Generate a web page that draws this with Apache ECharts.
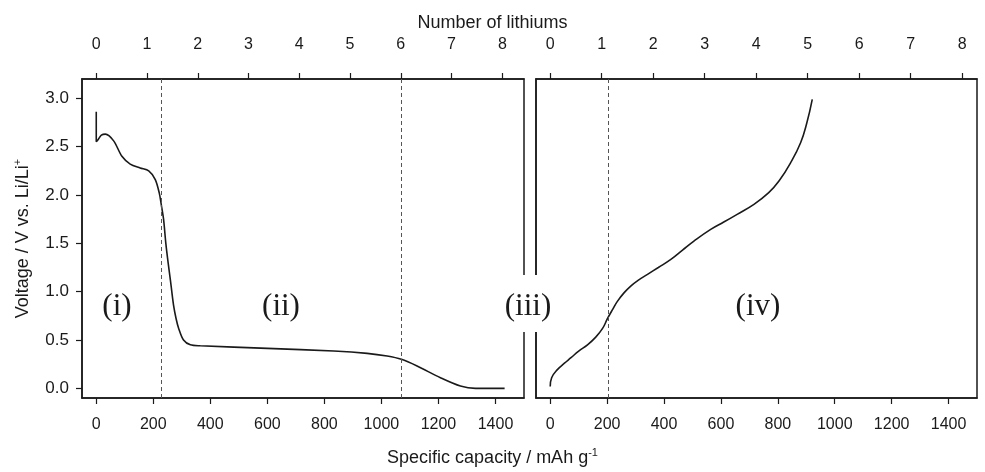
<!DOCTYPE html>
<html>
<head>
<meta charset="utf-8">
<script src="https://cdn.jsdelivr.net/npm/echarts@6/dist/echarts.min.js"></script>
<style>
  html, body { margin: 0; padding: 0; background: #ffffff; }
  #chart { width: 985px; height: 472px; }
</style>
</head>
<body>
<div id="chart"></div>
<script>
// Discharge (first lithiation) profile: capacity in mAh/g, voltage in V vs Li/Li+
const dischargeCapacity = [0, 0, 8, 18, 32, 61, 90, 119, 154, 184, 207, 221, 228, 236, 244, 252, 260, 271, 280, 289, 306, 330, 365, 600, 833, 950, 1020, 1070, 1125, 1207, 1277, 1330, 1432];
const dischargeVoltage  = [2.86, 2.55, 2.58, 2.62, 2.63, 2.56, 2.40, 2.32, 2.28, 2.25, 2.16, 2.02, 1.90, 1.75, 1.50, 1.30, 1.12, 0.86, 0.72, 0.62, 0.50, 0.45, 0.44, 0.413, 0.386, 0.362, 0.334, 0.30, 0.231, 0.11, 0.024, 0.0, 0.0];

// Charge (delithiation) profile
const chargeCapacity = [0, 5, 26, 50, 73, 100, 131, 160, 184, 201, 220, 236, 260, 283, 310, 342, 380, 424, 465, 505, 564, 610, 657, 716, 768, 804, 845, 880, 902, 921];
const chargeVoltage  = [0.02, 0.11, 0.196, 0.26, 0.317, 0.385, 0.45, 0.53, 0.62, 0.72, 0.82, 0.90, 0.99, 1.058, 1.12, 1.179, 1.25, 1.334, 1.43, 1.523, 1.644, 1.72, 1.80, 1.903, 2.024, 2.144, 2.334, 2.54, 2.747, 2.99];

// Region boundaries (mAh/g)
const dischargeBoundaries = [228, 1070];
const chargeBoundaries = [205];

// Axis ticks
const capacityTicks = [0, 200, 400, 600, 800, 1000, 1200, 1400];
const lithiumTicks = [0, 1, 2, 3, 4, 5, 6, 7, 8];
const voltageTicks = [0, 0.5, 1.0, 1.5, 2.0, 2.5, 3.0];
const capacityRange = [-50, 1500];
const voltageRange = [-0.1, 3.2];
// mAh/g per lithium for each panel's top axis
const capacityPerLithium = [178, 181];

const regionLabels = ['(i)', '(ii)', '(iii)', '(iv)'];

const sansFont = '"Liberation Sans", Arial, sans-serif';
const serifFont = '"Liberation Serif", "Times New Roman", serif';
const ink = '#1a1a1a';
const frameLine = { show: true, onZero: false, lineStyle: { color: ink, width: 1.5 } };

function bottomAxis(gridIndex) {
  return {
    type: 'value', gridIndex, position: 'bottom',
    min: capacityRange[0], max: capacityRange[1],
    axisLine: frameLine,
    axisTick: { show: true, length: 6, inside: false, customValues: capacityTicks, lineStyle: { color: ink, width: 1.2 } },
    axisLabel: { customValues: capacityTicks, margin: 19, fontSize: 16, color: ink, fontFamily: sansFont, formatter: v => String(Math.round(v)) },
    splitLine: { show: false }
  };
}
function topAxis(gridIndex) {
  const k = capacityPerLithium[gridIndex];
  return {
    type: 'value', gridIndex, position: 'top',
    min: capacityRange[0] / k, max: capacityRange[1] / k,
    axisLine: frameLine,
    axisTick: { show: true, length: 6, inside: false, customValues: lithiumTicks, lineStyle: { color: ink, width: 1.2 } },
    axisLabel: { customValues: lithiumTicks, margin: 26, fontSize: 16, color: ink, fontFamily: sansFont, formatter: v => String(Math.round(v)) },
    splitLine: { show: false }
  };
}
function pairs(xs, ys) { return xs.map((x, i) => [x, ys[i]]); }
function boundaryLines(values) {
  return {
    silent: true, symbol: 'none', label: { show: false },
    lineStyle: { type: [4, 3], color: '#555', width: 1 },
    data: values.map(v => ({ xAxis: v }))
  };
}

const chart = echarts.init(document.getElementById('chart'), null, { renderer: 'canvas' });

const option = {
  backgroundColor: '#ffffff',
  animation: false,
  grid: [
    { left: 82, top: 79, width: 442, height: 319, show: true, borderColor: ink, borderWidth: 1.5, backgroundColor: 'transparent' },
    { left: 536, top: 79, width: 441, height: 319, show: true, borderColor: ink, borderWidth: 1.5, backgroundColor: 'transparent' }
  ],
  xAxis: [bottomAxis(0), topAxis(0), bottomAxis(1), topAxis(1)],
  yAxis: [
    {
      type: 'value', gridIndex: 0, min: voltageRange[0], max: voltageRange[1],
      axisLine: frameLine,
      axisTick: { show: true, length: 6, customValues: voltageTicks, lineStyle: { color: ink, width: 1.2 } },
      axisLabel: { customValues: voltageTicks, margin: 13, fontSize: 17, color: ink, fontFamily: sansFont, formatter: v => v.toFixed(1) },
      splitLine: { show: false },
      name: 'Voltage / V vs. Li/Li{sup|+}',
      nameLocation: 'middle', nameGap: 48, nameRotate: 90,
      nameTextStyle: {
        fontSize: 18, color: ink, fontFamily: sansFont,
        rich: { sup: { fontSize: 11, color: ink, fontFamily: sansFont, verticalAlign: 'top', lineHeight: 22 } }
      }
    },
    {
      type: 'value', gridIndex: 1, min: voltageRange[0], max: voltageRange[1],
      axisLine: frameLine, axisTick: { show: false }, axisLabel: { show: false }, splitLine: { show: false }
    }
  ],
  series: [
    {
      type: 'line', xAxisIndex: 0, yAxisIndex: 0,
      data: pairs(dischargeCapacity, dischargeVoltage),
      showSymbol: false, smooth: 0.3,
      lineStyle: { color: ink, width: 1.6 },
      markLine: boundaryLines(dischargeBoundaries)
    },
    {
      type: 'line', xAxisIndex: 2, yAxisIndex: 1,
      data: pairs(chargeCapacity, chargeVoltage),
      showSymbol: false, smooth: 0.45,
      lineStyle: { color: ink, width: 1.6 },
      markLine: boundaryLines(chargeBoundaries)
    }
  ],
  graphic: [
    {
      type: 'text', left: 'center', top: 14, z: 50,
      style: { text: 'Number of lithiums', font: '18px ' + sansFont, fill: ink }
    },
    {
      type: 'text', left: 'center', top: 447, z: 50,
      style: {
        text: 'Specific capacity / mAh g{sup|-1}', font: '18px ' + sansFont, fill: ink,
        rich: { sup: { fontSize: 11, fontFamily: sansFont, fill: ink, verticalAlign: 'top', lineHeight: 22 } }
      }
    },
    { type: 'rect', z: 90, shape: { x: 497, y: 275, width: 78, height: 57 }, style: { fill: '#ffffff' } },
    { type: 'text', z: 100, x: 117, y: 307, style: { text: regionLabels[0], font: '31px ' + serifFont, fill: ink, textAlign: 'center', textVerticalAlign: 'middle' } },
    { type: 'text', z: 100, x: 281, y: 307, style: { text: regionLabels[1], font: '31px ' + serifFont, fill: ink, textAlign: 'center', textVerticalAlign: 'middle' } },
    { type: 'text', z: 100, x: 528, y: 307, style: { text: regionLabels[2], font: '31px ' + serifFont, fill: ink, textAlign: 'center', textVerticalAlign: 'middle' } },
    { type: 'text', z: 100, x: 758, y: 307, style: { text: regionLabels[3], font: '31px ' + serifFont, fill: ink, textAlign: 'center', textVerticalAlign: 'middle' } }
  ]
};

chart.setOption(option);
</script>
</body>
</html>
